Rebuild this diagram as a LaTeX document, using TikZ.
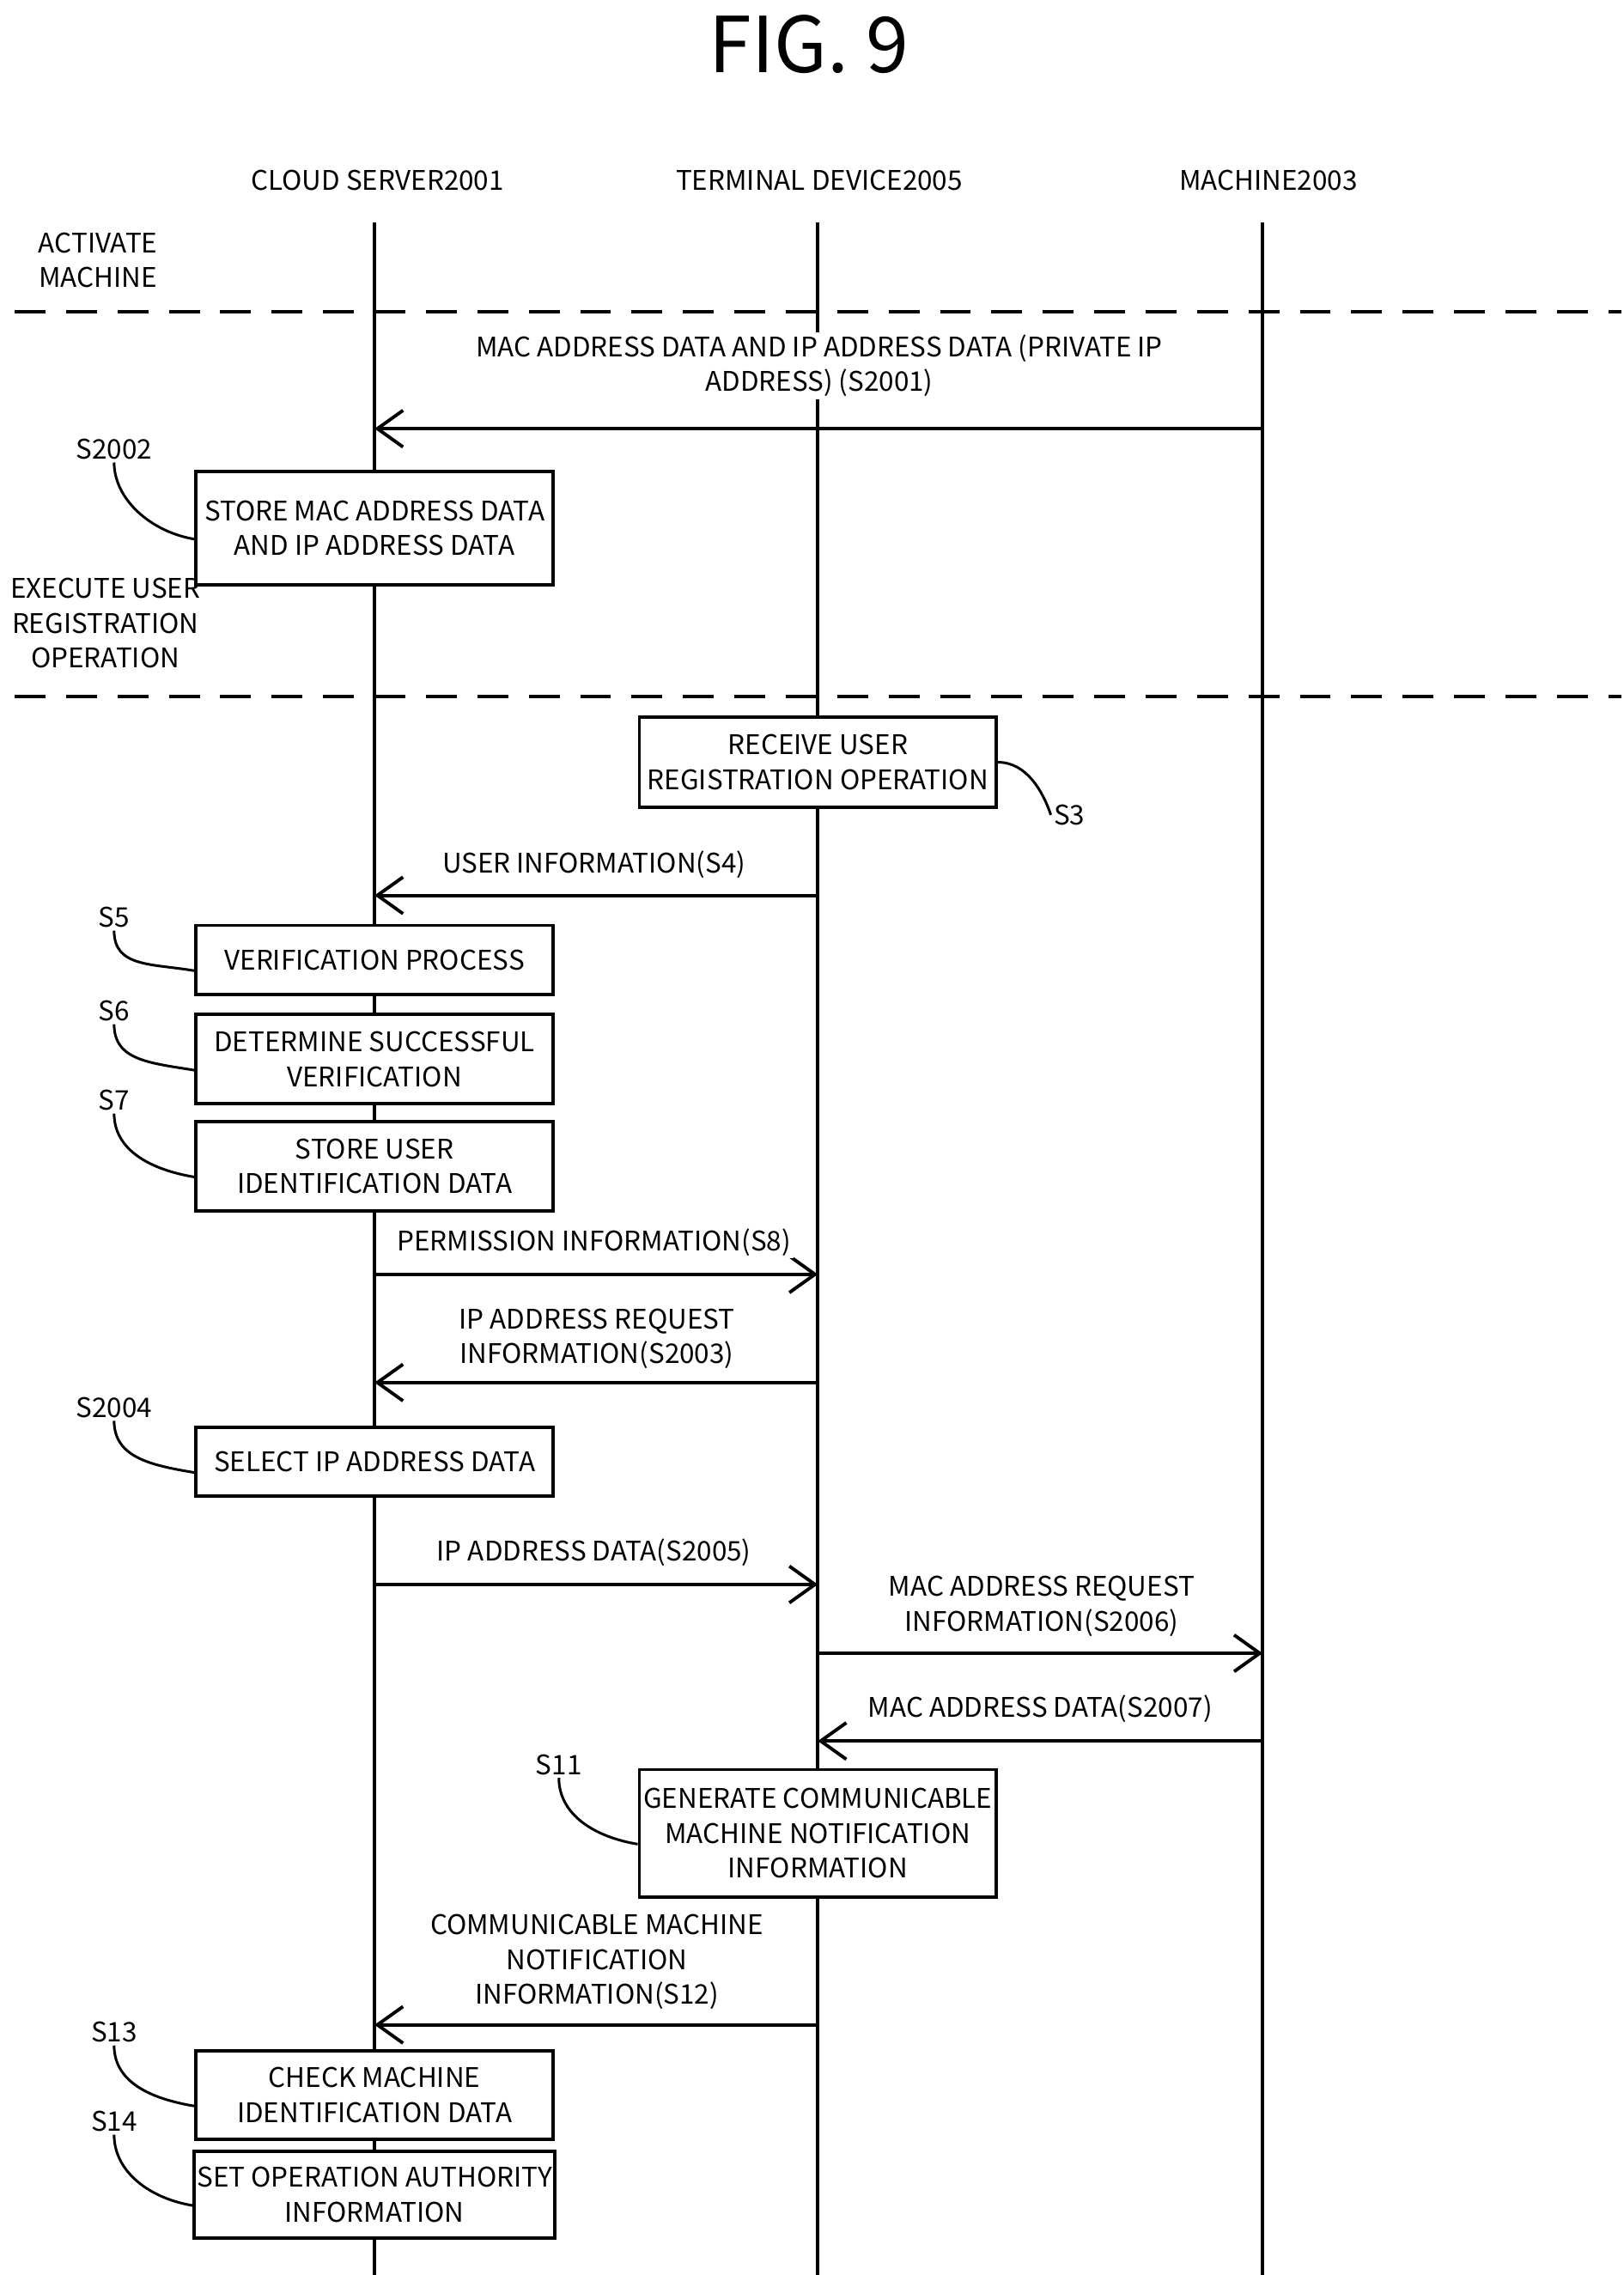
\documentclass[tikz,border=0pt]{standalone}
\usepackage{fontspec}
\setmainfont{Noto Sans CJK JP}
\usetikzlibrary{arrows.meta,positioning}
\tikzset{
  life/.style={line width=1.3pt},
  proc/.style={draw,line width=1.3pt,fill=white,align=center,minimum width=4.88cm,inner sep=1pt,font=\fontsize{10.5}{13.5}\selectfont},
  msg/.style={line width=1.3pt,-{Straight Barb[length=3.5mm,width=5mm,line width=1.3pt]}},
  lbl/.style={align=center,font=\fontsize{10.5}{13.5}\selectfont,fill=white,inner sep=1pt},
  tag/.style={font=\fontsize{10.5}{13.5}\selectfont,inner sep=1pt},
  wave/.style={line width=1pt},
  sep/.style={line width=1.5pt,dash pattern=on 12pt off 8pt}
}
\begin{document}
\begin{tikzpicture}[x=0.02cm,y=-0.02cm]
\useasboundingbox (0,0) rectangle (1110,1555);
\node (fig) at (553,30) {\fontsize{30}{34}\selectfont FIG. 9};
% lifelines
\node[tag] (cloud) at (258,123) {CLOUD SERVER2001};
\node[tag] (term) at (560,123) {TERMINAL DEVICE2005};
\node[tag] (mach) at (867,123) {MACHINE2003};
\coordinate (ct) at (256,152); \coordinate (cb) at (256,1555);
\coordinate (tt) at (559,152); \coordinate (tb) at (559,1555);
\coordinate (mt) at (863,152); \coordinate (mb) at (863,1555);
\draw[life] (ct) -- (cb);
\draw[life] (tt) -- (tb);
\draw[life] (mt) -- (mb);
% phases
\node[tag,align=center] (act) at (67,178) {ACTIVATE\\MACHINE};
\node[tag,align=center] (reg) at (72,426) {EXECUTE USER\\REGISTRATION\\OPERATION};
\coordinate (d1a) at (10,213); \coordinate (d1b) at (1108,213);
\coordinate (d2a) at (10,476); \coordinate (d2b) at (1108,476);
\draw[sep] (d1a) -- (d1b);
\draw[sep] (d2a) -- (d2b);
% messages
\foreach \n/\y/\from/\to in {m1/293/863/256, m4/612/559/256, m8/871/256/559, m3/945/559/256,
  m5/1083/256/559, m6/1130/559/863, m7/1190/863/559, m12/1384/559/256}{
  \coordinate (\n a) at (\from,\y); \coordinate (\n b) at (\to,\y);
  \draw[msg] (\n a) -- (\n b);
}
\node[lbl] (l1) at (560,250) {MAC ADDRESS DATA AND IP ADDRESS DATA (PRIVATE IP\\ADDRESS) (S2001)};
\node[lbl] (l4) at (406,591) {USER INFORMATION(S4)};
\node[lbl] (l8) at (406,849) {PERMISSION INFORMATION(S8)};
\node[lbl] (l3) at (408,915) {IP ADDRESS REQUEST\\INFORMATION(S2003)};
\node[lbl] (l5) at (406,1061) {IP ADDRESS DATA(S2005)};
\node[lbl] (l6) at (712,1098) {MAC ADDRESS REQUEST\\INFORMATION(S2006)};
\node[lbl] (l7) at (711,1168) {MAC ADDRESS DATA(S2007)};
\node[lbl] (l12) at (408,1341) {COMMUNICABLE MACHINE\\NOTIFICATION\\INFORMATION(S12)};
% process boxes
\node[proc,minimum height=1.56cm] (b2002) at (256,361) {STORE MAC ADDRESS DATA\\AND IP ADDRESS DATA};
\node[proc,minimum height=1.24cm] (b3) at (559,521) {RECEIVE USER\\REGISTRATION OPERATION};
\node[proc,minimum height=0.94cm] (b5) at (256,656) {VERIFICATION PROCESS};
\node[proc,minimum height=1.22cm] (b6) at (256,724) {DETERMINE SUCCESSFUL\\VERIFICATION};
\node[proc,minimum height=1.22cm] (b7) at (256,797) {STORE USER\\IDENTIFICATION DATA};
\node[proc,minimum height=0.94cm] (b2004) at (256,999) {SELECT IP ADDRESS DATA};
\node[proc,minimum height=1.74cm] (b11) at (559,1253) {GENERATE COMMUNICABLE\\MACHINE NOTIFICATION\\INFORMATION};
\node[proc,minimum height=1.2cm] (b13) at (256,1432) {CHECK MACHINE\\IDENTIFICATION DATA};
\node[proc,minimum height=1.18cm] (b14) at (256,1500) {SET OPERATION AUTHORITY\\INFORMATION};
% step tags
\foreach \n/\t/\y in {b2002/S2002/307, b5/S5/627, b6/S6/691, b7/S7/752, b2004/S2004/962, b13/S13/1389, b14/S14/1450}{
  \node[tag] (t\n) at (78,\y) {\t};
  \draw[wave] (t\n.south) .. controls +(0,25) and +(-30,-5) .. ([yshift=-0.15cm]\n.west);
}
\node[tag] (tb11) at (382,1206) {S11};
\draw[wave] (tb11.south) .. controls +(0,25) and +(-30,-5) .. ([yshift=-0.15cm]b11.west);
\node[tag] (tb3) at (731,557) {S3};
\draw[wave] (b3.east) .. controls +(20,0) and +(-5,-15) .. (tb3.west);
\end{tikzpicture}
\end{document}
